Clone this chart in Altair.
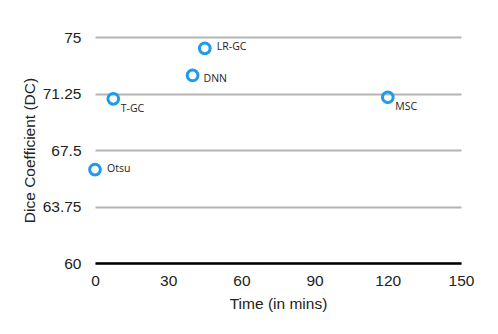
import altair as alt
import pandas as pd

methods = ["Otsu", "T-GC", "DNN", "LR-GC", "MSC"]
time_mins = [0, 7.5, 40, 45, 120]
dice = [66.2, 70.9, 72.45, 74.25, 71.0]

df = pd.DataFrame({"method": methods, "time": time_mins, "dc": dice})

x = alt.X("time:Q", title="Time (in mins)",
          scale=alt.Scale(domain=[0, 150], nice=False),
          axis=alt.Axis(values=[0, 30, 60, 90, 120, 150], grid=False, ticks=False,
                        domain=True, domainColor="#000000", domainWidth=2.5,
                        labelFlush=False,
                        labelFontSize=15.5, labelFont="Liberation Sans", labelColor="#222222",
                        labelPadding=10, titleFontSize=15.5, titleFont="Liberation Sans",
                        titleFontWeight="normal", titleColor="#222222", titlePadding=8))
y = alt.Y("dc:Q", title="Dice Coefficient (DC)",
          scale=alt.Scale(domain=[60, 75], nice=False, zero=False),
          axis=alt.Axis(values=[60, 63.75, 67.5, 71.25, 75], labelExpr="toString(datum.value)",
                        grid=True, labelFlush=False,
                        gridColor="#b4b4b4", gridWidth=2, ticks=False, domain=False,
                        labelFontSize=15.5, labelFont="Liberation Sans", labelColor="#222222",
                        labelPadding=14, titleFontSize=15.5, titleFont="Liberation Sans",
                        titleFontWeight="normal", titleColor="#222222", titlePadding=5))

base = alt.Chart(df)

points = base.mark_point(shape="circle", filled=False, size=115, strokeWidth=3,
                         color="#1e9bed", opacity=1).encode(x=x, y=y)

def labels(names, dx, dy):
    return base.transform_filter(
        alt.FieldOneOfPredicate(field="method", oneOf=names)
    ).mark_text(align="left", baseline="middle", dx=dx, dy=dy, fontSize=10.5,
                font="Open Sans", color="#222222").encode(
        x=alt.X("time:Q"), y=alt.Y("dc:Q"), text="method:N")

chart = alt.layer(
    points,
    labels(["Otsu", "LR-GC"], 12, -1),
    labels(["DNN"], 11, 4),
    labels(["T-GC", "MSC"], 7.5, 10),
).properties(
    width=366, height=226,
    padding={"left": 87, "top": 29, "right": 20, "bottom": 50},
    autosize="none",
).configure_view(stroke=None)

chart.save("out.html", embed_options={"renderer": "svg", "actions": False})
